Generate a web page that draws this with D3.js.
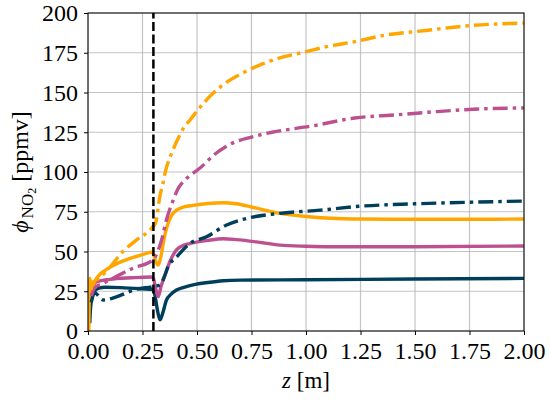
<!DOCTYPE html>
<html>
<head>
<meta charset="utf-8">
<script src="https://cdn.jsdelivr.net/npm/d3@7"></script>
<style>
  html, body { margin: 0; padding: 0; background: #fff; }
  svg { display: block; }
</style>
</head>
<body>
<svg id="chart" width="550" height="403"></svg>
<script>
// Axis ticks
const xTicks = [0, 0.25, 0.5, 0.75, 1.0, 1.25, 1.5, 1.75, 2.0];
const yTicks = [0, 25, 50, 75, 100, 125, 150, 175, 200];
const xDomain = [0, 2];
const yDomain = [0, 200];
const markerZ = 0.3;

// NO2 profiles along z: [z (m), NO2 (ppmv)]
const orangeSolid = [[0.004,0],[0.006,30],[0.009,33],[0.012,24],[0.016,31],[0.02,28],[0.03,31],[0.05,35],[0.077,38],[0.1,40],[0.153,43.6],[0.2,46],[0.25,48],[0.29,49.5],[0.3,48.5],[0.31,44],[0.322,41.5],[0.333,46],[0.345,55],[0.357,63],[0.368,68],[0.385,73],[0.406,76],[0.44,78],[0.482,79],[0.55,80.2],[0.62,80.7],[0.68,80],[0.75,78],[0.88,74],[1.0,72],[1.11,70.9],[1.25,70.4],[1.5,70.3],[1.75,70.3],[2.0,70.4]];
const magentaSolid = [[0.01,22],[0.02,27],[0.04,31],[0.1,32.5],[0.2,33.5],[0.29,34],[0.3,33],[0.31,27],[0.322,21.6],[0.335,28],[0.35,34],[0.36,38],[0.38,45],[0.406,51],[0.44,54],[0.467,55],[0.55,57],[0.62,58],[0.68,57.5],[0.8,55.5],[0.88,54],[1.0,53.3],[1.11,53],[1.5,53],[2.0,53.5]];
const tealSolid = [[0.008,5],[0.012,15],[0.02,22],[0.03,25],[0.05,27],[0.08,27.5],[0.15,27.3],[0.25,26.5],[0.3,26],[0.31,20],[0.32,12],[0.33,7],[0.34,10],[0.36,19.5],[0.38,23],[0.406,25.8],[0.44,27.5],[0.482,29],[0.55,30.5],[0.62,31.6],[0.7,32],[1.0,32.2],[1.5,32.7],[2.0,33.1]];
const orangeDashDot = [[0.015,26],[0.02,30],[0.05,33],[0.1,40],[0.16,50],[0.22,57],[0.3,66],[0.31,68],[0.33,85],[0.344,93],[0.353,99],[0.39,114],[0.42,123],[0.44,128],[0.47,133],[0.504,139],[0.57,149],[0.642,157],[0.72,163],[0.81,168.5],[0.9,172.5],[0.996,175.5],[1.1,179],[1.225,182],[1.36,186],[1.55,189],[1.745,192],[2.0,193.7]];
const magentaDashDot = [[0.015,22],[0.03,27],[0.07,30],[0.14,35],[0.215,40],[0.284,43.4],[0.3,45],[0.31,47],[0.337,57],[0.36,70],[0.39,82],[0.415,90],[0.437,94],[0.47,98],[0.514,102.5],[0.58,111],[0.66,118],[0.75,122],[0.845,125],[1.03,129],[1.225,134],[1.42,136],[1.6,138],[1.79,139.6],[2.0,140.3]];
const tealDashDot = [[0.015,18],[0.03,24],[0.07,19.5],[0.13,21.5],[0.215,26],[0.3,28],[0.33,29],[0.35,34],[0.366,40],[0.406,46.5],[0.467,55],[0.544,59.3],[0.636,66.7],[0.734,71],[0.88,74],[1.065,76],[1.25,78.5],[1.5,80],[1.75,81],[2.0,81.7]];

const seriesList = [
  { data: tealSolid,      color: "#003f5c", dash: null },
  { data: magentaSolid,   color: "#bc5090", dash: null },
  { data: orangeSolid,    color: "#ffa600", dash: null },
  { data: tealDashDot,    color: "#003f5c", dash: "15,5,3.5,5" },
  { data: magentaDashDot, color: "#bc5090", dash: "15,5,3.5,5" },
  { data: orangeDashDot,  color: "#ffa600", dash: "15,5,3.5,5" }
];

const FONT = '"Liberation Serif"';
const margin = { left: 88, right: 26, top: 13, bottom: 72 };
const width = 550, height = 403;
const svg = d3.select("#chart");

const x = d3.scaleLinear().domain(xDomain).range([margin.left, width - margin.right]);
const y = d3.scaleLinear().domain(yDomain).range([height - margin.bottom, margin.top]);

// grid
const grid = svg.append("g");
grid.selectAll("line.gx").data(xTicks).join("line")
  .attr("x1", d => x(d)).attr("x2", d => x(d))
  .attr("y1", y(yDomain[0])).attr("y2", y(yDomain[1]))
  .attr("stroke", "#b0b0b0").attr("stroke-opacity", 0.75).attr("stroke-width", 1.2);
grid.selectAll("line.gy").data(yTicks).join("line")
  .attr("y1", d => y(d)).attr("y2", d => y(d))
  .attr("x1", x(xDomain[0])).attr("x2", x(xDomain[1]))
  .attr("stroke", "#b0b0b0").attr("stroke-opacity", 0.75).attr("stroke-width", 1.2);

// clip to plot area
svg.append("clipPath").attr("id", "plotClip").append("rect")
  .attr("x", x(xDomain[0])).attr("y", y(yDomain[1]))
  .attr("width", x(xDomain[1]) - x(xDomain[0]))
  .attr("height", y(yDomain[0]) - y(yDomain[1]));

const line = d3.line().x(d => x(d[0])).y(d => y(d[1])).curve(d3.curveMonotoneX);

const plot = svg.append("g").attr("clip-path", "url(#plotClip)");
plot.selectAll("path.series").data(seriesList).join("path")
  .attr("class", "series")
  .attr("d", d => line(d.data))
  .attr("fill", "none")
  .attr("stroke", d => d.color)
  .attr("stroke-width", 3.4)
  .attr("stroke-linejoin", "round")
  .attr("stroke-dasharray", d => d.dash);

// vertical marker
plot.append("line")
  .attr("x1", x(markerZ)).attr("x2", x(markerZ))
  .attr("y1", y(yDomain[0])).attr("y2", y(yDomain[1]))
  .attr("stroke", "#000").attr("stroke-width", 2.5)
  .attr("stroke-dasharray", "9,3.5");

// frame
svg.append("rect")
  .attr("x", x(xDomain[0])).attr("y", y(yDomain[1]))
  .attr("width", x(xDomain[1]) - x(xDomain[0]))
  .attr("height", y(yDomain[0]) - y(yDomain[1]))
  .attr("fill", "none").attr("stroke", "#000").attr("stroke-width", 1);

// axes
const xAxis = d3.axisBottom(x).tickValues(xTicks).tickFormat(d3.format(".2f")).tickSize(4).tickPadding(3);
const yAxis = d3.axisLeft(y).tickValues(yTicks).tickFormat(d3.format("d")).tickSize(4).tickPadding(6);

const gx = svg.append("g").attr("transform", `translate(0,${y(yDomain[0])})`).call(xAxis);
const gy = svg.append("g").attr("transform", `translate(${x(xDomain[0])},0)`).call(yAxis);
[gx, gy].forEach(g => {
  g.attr("font-family", null).attr("font-size", null);
  g.select(".domain").remove();
  g.selectAll(".tick line").attr("stroke", "#000").attr("stroke-width", 1);
  g.selectAll(".tick text")
    .style("font-family", FONT)
    .style("font-size", "24px").attr("fill", "#000");
});
gx.selectAll(".tick text").attr("y", 28).attr("dy", null);
gy.selectAll(".tick text").attr("dy", "0.33em");

// axis titles
const xl = svg.append("text")
  .attr("x", (x(xDomain[0]) + x(xDomain[1])) / 2)
  .attr("y", 388)
  .attr("text-anchor", "middle")
  .style("font-family", FONT)
  .style("font-size", "23px");
xl.append("tspan").style("font-style", "italic").text("z");
xl.append("tspan").text(" [m]");

const yl = svg.append("text")
  .attr("transform", `translate(28,${(y(yDomain[0]) + y(yDomain[1])) / 2}) rotate(-90)`)
  .attr("text-anchor", "middle")
  .style("font-family", FONT)
  .style("font-size", "24px");
yl.append("tspan").style("font-style", "italic").text("ϕ");
yl.append("tspan").style("font-size", "17px").attr("dy", 5).attr("dx", 2).text("NO");
yl.append("tspan").style("font-size", "12px").attr("dy", 3).text("2");
yl.append("tspan").attr("dy", -8).text(" [ppmv]");
</script>
</body>
</html>
